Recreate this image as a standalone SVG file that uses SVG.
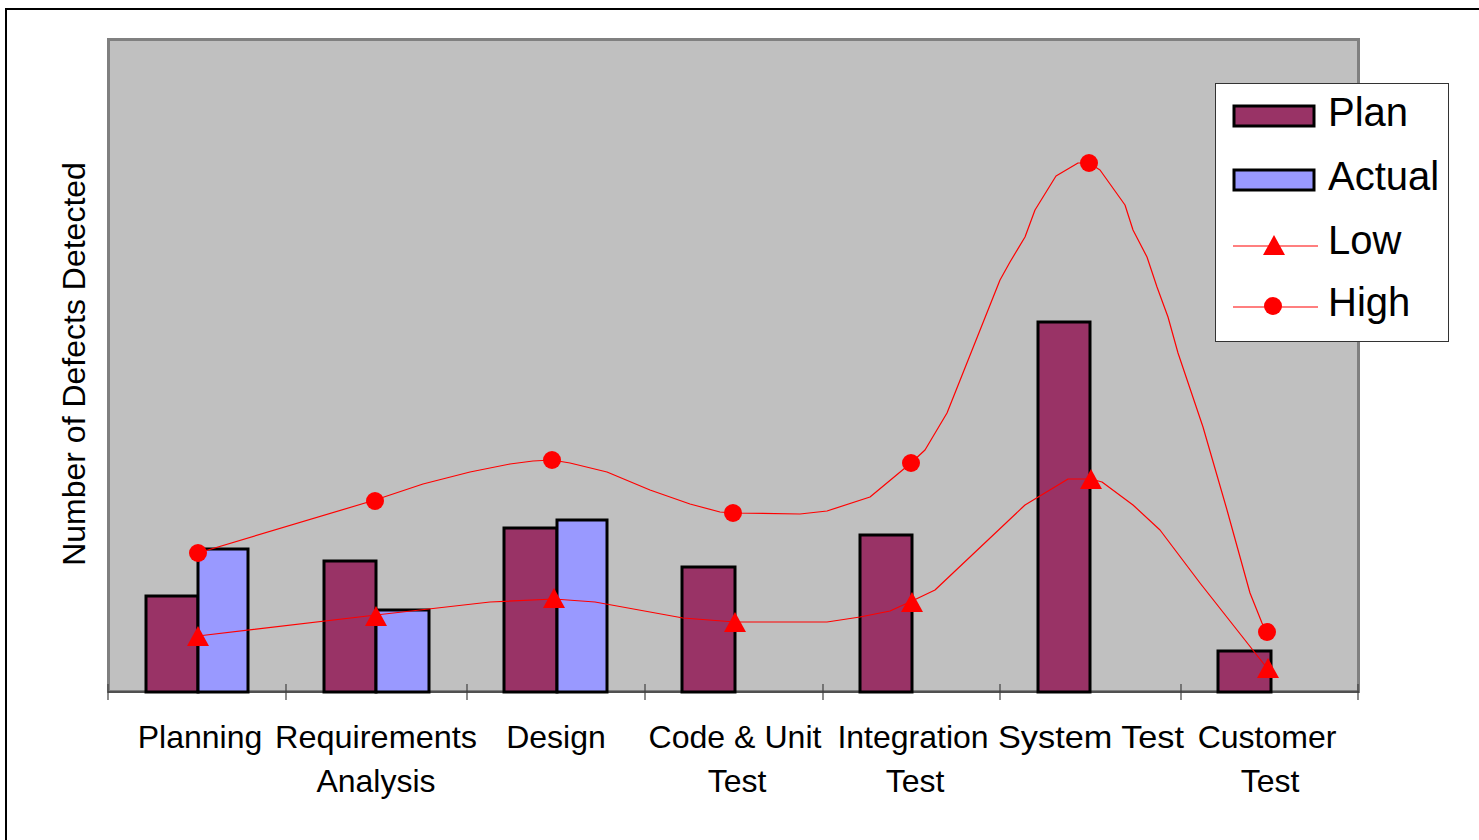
<svg xmlns="http://www.w3.org/2000/svg" width="1479" height="840" viewBox="0 0 1479 840">
  <style>
    text { font-family: "Liberation Sans", Arial, sans-serif; fill: #000; }
    .cat { font-size: 32px; text-anchor: middle; }
    .leg { font-size: 40px; }
    .plan { fill: #993366; stroke: #000; stroke-width: 3; }
    .actual { fill: #9999FF; stroke: #000; stroke-width: 3; }
    .series { fill: none; stroke: #FF0000; stroke-width: 1.2; stroke-linejoin: round; }
    .tick { stroke: #404040; stroke-width: 1.2; }
  </style>
  <defs>
    <circle id="dot" r="9" fill="#FF0000"/>
    <path id="tri" d="M0,-10 L11,10 L-11,10 Z" fill="#FF0000"/>
  </defs>

  <rect x="0" y="0" width="1479" height="840" fill="#FFFFFF"/>
  <!-- chart frame -->
  <path d="M6,840 V9 H1479" fill="none" stroke="#000" stroke-width="2"/>

  <!-- plot area -->
  <g id="plot-area">
    <rect x="108.5" y="39.5" width="1250" height="652" fill="#C0C0C0" stroke="#808080" stroke-width="3"/>
    <line x1="108" y1="692" x2="1359" y2="692" stroke="#404040" stroke-width="1.5"/>
    <g class="tick">
      <line x1="108" y1="684" x2="108" y2="700"/>
      <line x1="286" y1="684" x2="286" y2="700"/>
      <line x1="467" y1="684" x2="467" y2="700"/>
      <line x1="645" y1="684" x2="645" y2="700"/>
      <line x1="823" y1="684" x2="823" y2="700"/>
      <line x1="1000" y1="684" x2="1000" y2="700"/>
      <line x1="1181" y1="684" x2="1181" y2="700"/>
      <line x1="1358" y1="684" x2="1358" y2="700"/>
    </g>
  </g>

  <!-- bars -->
  <g id="plan-bars">
    <rect class="plan" x="146" y="596" width="52" height="96"/>
    <rect class="plan" x="324" y="561" width="52" height="131"/>
    <rect class="plan" x="504" y="528" width="53" height="164"/>
    <rect class="plan" x="682" y="567" width="53" height="125"/>
    <rect class="plan" x="860" y="535" width="52" height="157"/>
    <rect class="plan" x="1038" y="322" width="52" height="370"/>
    <rect class="plan" x="1218" y="651" width="53" height="41"/>
  </g>
  <g id="actual-bars">
    <rect class="actual" x="198" y="549" width="50" height="143"/>
    <rect class="actual" x="376" y="610" width="53" height="82"/>
    <rect class="actual" x="557" y="520" width="50" height="172"/>
  </g>

  <!-- trend lines -->
  <g id="connectors">
    <polyline id="high-line" class="series" points="198,553 375,500 423,484 470,472 510,464 533,461 552,460 570,463 607,472 650,490 690,504 720,512 733,513 800,514 827,511 870,497 911,463 925,450 947,413 1000,280 1010,262 1025,237 1035,210 1056,176 1078,163 1089,163 1100,170 1125,205 1133,230 1147,257 1157,287 1168,317 1178,353 1203,427 1227,510 1250,593 1262,623 1266,632"/>
    <polyline id="low-line" class="series" points="198,636 376,615 490,602 554,599 595,602 683,618 735,622 827,622 860,617 890,611 912,601 935,590 1025,505 1068,479 1091,479 1102,482 1133,505 1160,530 1200,583 1267,668"/>
  </g>

  <!-- markers -->
  <g id="high-markers">
    <use href="#dot" x="198" y="553"/>
    <use href="#dot" x="375" y="501"/>
    <use href="#dot" x="552" y="460"/>
    <use href="#dot" x="733" y="513"/>
    <use href="#dot" x="911" y="463"/>
    <use href="#dot" x="1089" y="163"/>
    <use href="#dot" x="1267" y="632"/>
  </g>
  <g id="low-markers">
    <use href="#tri" x="198" y="636"/>
    <use href="#tri" x="376" y="616"/>
    <use href="#tri" x="554" y="598"/>
    <use href="#tri" x="735" y="622"/>
    <use href="#tri" x="912" y="602"/>
    <use href="#tri" x="1091" y="479"/>
    <use href="#tri" x="1268" y="668"/>
  </g>

  <!-- category labels -->
  <g id="category-labels">
    <text class="cat" x="200" y="748">Planning</text>
    <text class="cat" x="376" y="748" textLength="202" lengthAdjust="spacingAndGlyphs">Requirements</text>
    <text class="cat" x="376" y="792">Analysis</text>
    <text class="cat" x="556" y="748">Design</text>
    <text class="cat" x="735" y="748" textLength="173" lengthAdjust="spacingAndGlyphs">Code &amp; Unit</text>
    <text class="cat" x="737" y="792">Test</text>
    <text class="cat" x="913" y="748">Integration</text>
    <text class="cat" x="915" y="792">Test</text>
    <text class="cat" x="1091" y="748" textLength="186" lengthAdjust="spacingAndGlyphs">System Test</text>
    <text class="cat" x="1267" y="748">Customer</text>
    <text class="cat" x="1270" y="792">Test</text>
  </g>

  <!-- value axis title -->
  <g id="axis-title">
    <text x="0" y="0" font-size="32" text-anchor="middle" transform="translate(85,364) rotate(-90)">Number of Defects Detected</text>
  </g>

  <!-- legend -->
  <g id="legend">
    <rect x="1215.5" y="83.5" width="233" height="258" fill="#FFFFFF" stroke="#333" stroke-width="1"/>
    <rect class="plan" x="1234" y="106" width="80" height="20"/>
    <rect class="actual" x="1234" y="170" width="80" height="20"/>
    <line x1="1233" y1="246" x2="1318" y2="246" stroke="#FF0000" stroke-width="1.2"/>
    <use href="#tri" x="1274" y="245"/>
    <line x1="1233" y1="307" x2="1318" y2="307" stroke="#FF0000" stroke-width="1.2"/>
    <use href="#dot" x="1273" y="306"/>
    <text class="leg" x="1328" y="126">Plan</text>
    <text class="leg" x="1328" y="190">Actual</text>
    <text class="leg" x="1328" y="254">Low</text>
    <text class="leg" x="1328" y="316">High</text>
  </g>
</svg>
